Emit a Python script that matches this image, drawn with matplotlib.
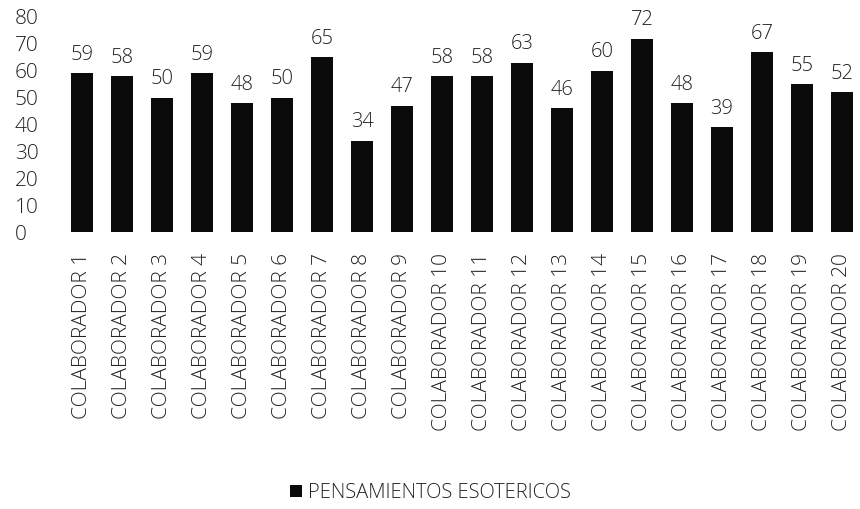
import matplotlib
matplotlib.use("Agg")
import matplotlib.pyplot as plt
import numpy as np

# puntajes por colaborador
colaboradores = ["COLABORADOR %d" % i for i in range(1, 21)]
puntajes = [59, 58, 50, 59, 48, 50, 65, 34, 47, 58, 58, 63, 46, 60, 72, 48, 39, 67, 55, 52]
serie = "PENSAMIENTOS ESOTERICOS"

plt.rcParams["font.family"] = ["Open Sans", "DejaVu Sans"]
plt.rcParams["font.weight"] = "light"

fig = plt.figure(figsize=(8.6, 5.09), dpi=100)
ax = fig.add_axes([62 / 860, (509 - 232) / 509, (860 - 62) / 860, (232 - 17) / 509])

x = np.arange(len(colaboradores))
bars = ax.bar(x, puntajes, width=0.55, color="#0b0b0b", label=serie)

for xi, v in zip(x, puntajes):
    ax.annotate(str(v), (xi, v), xytext=(0, 6), textcoords="offset points",
                ha="center", va="bottom", fontsize=14.5, color="#222222")

ax.set_ylim(0, 80)
ax.set_xlim(-0.5, 19.45)
ax.set_yticks(range(0, 81, 10))
ax.set_xticks(x)
ax.set_xticklabels(colaboradores, rotation=90, fontsize=15, color="#222222")
ax.tick_params(axis="y", labelsize=15, length=0, pad=34, labelcolor="#222222")
ax.tick_params(axis="x", length=0, pad=15)
for lbl in ax.get_yticklabels():
    lbl.set_horizontalalignment("left")
for s in ax.spines.values():
    s.set_visible(False)

fig.legend(handles=[bars], labels=[serie], loc="center", bbox_to_anchor=(0.5, 1 - 493 / 509),
           frameon=False, fontsize=14.5, handlelength=0.6, handleheight=0.6, handletextpad=0.3,
           labelcolor="#222222")

fig.savefig("out.png", dpi=100)
